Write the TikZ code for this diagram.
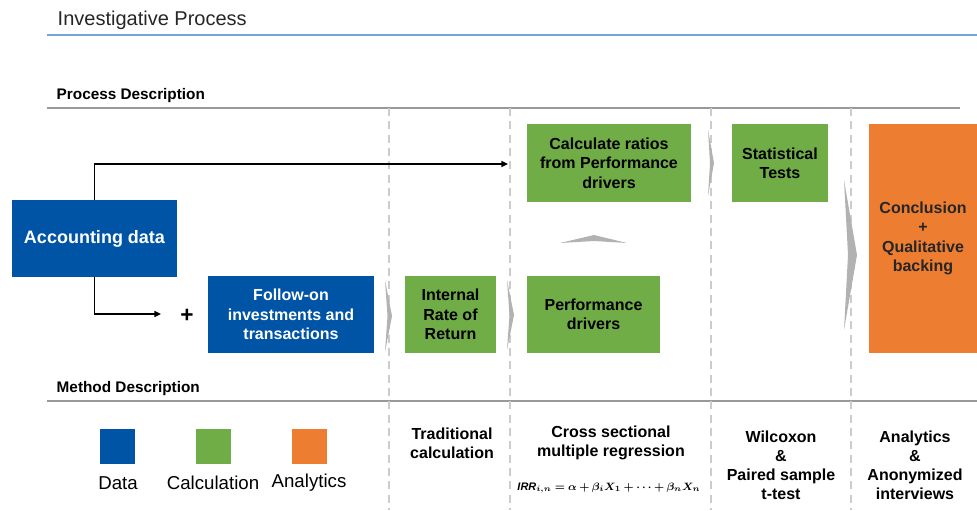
\documentclass[tikz,border=0pt]{standalone}
\usepackage{fontspec}
\setmainfont{Liberation Sans}
\usepackage{amsmath,bm}
\usetikzlibrary{arrows.meta}

\definecolor{dataBlue}{RGB}{0,84,166}
\definecolor{calcGreen}{RGB}{112,173,71}
\definecolor{anaOrange}{RGB}{237,125,49}
\definecolor{titleLine}{RGB}{120,165,215}

\begin{document}
\begin{tikzpicture}[x=0.75pt, y=-0.75pt,
	box/.style={rectangle, inner sep=2pt, align=center, font=\bfseries\fontsize{12}{14.5}\selectfont, minimum height=57.75pt},
	dataBox/.style={box, fill=dataBlue, text=white},
	calcBox/.style={box, fill=calcGreen, text=black},
	anaBox/.style={box, fill=anaOrange, text=black!85},
	legendBox/.style={rectangle, minimum size=26.25pt, inner sep=0pt},
	legendText/.style={font=\fontsize{14}{16}\selectfont},
	headText/.style={anchor=west, font=\bfseries\fontsize{11.5}{13}\selectfont},
	methodText/.style={align=center, font=\bfseries\fontsize{12}{14.3}\selectfont},
	colDivider/.style={gray!40, dash pattern=on 6pt off 4pt, line width=0.8pt},
	chevron/.style={fill=gray!60, draw=none},
	flow/.style={-{Triangle[length=5pt,width=4.5pt]}, line width=1.1pt}
]
	\useasboundingbox (0,0) rectangle (977,510);

	% headings and rules
	\node[anchor=west, font=\fontsize{15}{17}\selectfont, text=black!85](titleText) at (53,20.5){Investigative Process};
	\draw[titleLine, line width=1.5pt] (47,35) -- (977,35);
	\node[headText](processHead) at (52,95.5){Process Description};
	\draw[gray!80, line width=0.9pt] (47,108) -- (960,108);
	\node[headText](methodHead) at (52,388.5){Method Description};
	\draw[gray!80, line width=0.9pt] (47,401) -- (977,401);

	% column dividers
	\draw[colDivider] (389,108) -- (389,510);
	\draw[colDivider] (510,108) -- (510,510);
	\draw[colDivider] (711,108) -- (711,510);
	\draw[colDivider] (851,108) -- (851,510);

	% process boxes
	\node[dataBox, minimum width=123.75pt, font=\bfseries\fontsize{13.5}{16}\selectfont](accountingBox) at (94.5,238.5){Accounting data};
	\node[dataBox, minimum width=124.5pt](followOnBox) at (291,314.5){Follow-on\\investments and\\transactions};
	\node[calcBox, minimum width=68.25pt](irrBox) at (450.5,314.5){Internal\\Rate of\\Return};
	\node[calcBox, minimum width=99.75pt](perfBox) at (593.5,314.5){Performance\\drivers};
	\node[calcBox, minimum width=123pt, minimum height=58.5pt](ratioBox) at (609,163){Calculate ratios\\from Performance\\drivers};
	\node[calcBox, minimum width=72pt, minimum height=58.5pt](statBox) at (780,163){Statistical\\Tests};
	\node[anaBox, minimum width=81pt, minimum height=171.75pt](conclusionBox) at (923,238.5){Conclusion\\+\\Qualitative\\backing};

	% arrows out of the accounting data
	\coordinate (ratioIn) at (508,164);
	\coordinate (followIn) at (161,314);
	\draw[flow] (accountingBox.north) |- (ratioIn);
	\draw[flow] (accountingBox.south) |- (followIn);
	\node[font=\bfseries\fontsize{17}{17}\selectfont](plusSign) at (187,316){+};

	% chevrons between the steps
	\fill[chevron] (385,280) -- (392,316) -- (385,352) -- (387.5,316) -- cycle;
	\fill[chevron] (507,280) -- (514,315) -- (507,350) -- (509.5,315) -- cycle;
	\fill[chevron] (708,130) -- (714,163) -- (708,196) -- (710,163) -- cycle;
	\fill[chevron] (844,180) -- (857,255) -- (844,330) -- (848,255) -- cycle;
	\fill[chevron] (560,243) -- (594,235) -- (627,243) -- (594,241) -- cycle;

	% legend
	\node[legendBox, fill=dataBlue](legendDataBox) at (117.5,446){};
	\node[legendBox, fill=calcGreen](legendCalcBox) at (213.5,446){};
	\node[legendBox, fill=anaOrange](legendAnaBox) at (309.5,446){};
	\node[legendText](legendDataText) at (118,483){Data};
	\node[legendText](legendCalcText) at (213,483){Calculation};
	\node[legendText](legendAnaText) at (309,483){Analytics};

	% methods per column
	\node[methodText](traditionalText) at (452,443){Traditional\\calculation};
	\node[methodText](regressionText) at (611,443){Cross sectional\\multiple regression};
	\node[font=\fontsize{8.2}{10}\selectfont](formulaText) at (609,488){$\bm{\mathit{IRR}_{i,n} = \alpha + \beta_i X_1 + \cdots + \beta_n X_n}$};
	\node[methodText](testText) at (781,465){Wilcoxon\\\&\\Paired sample\\t-test};
	\node[methodText](analyticsText) at (915,465){Analytics\\\&\\Anonymized\\interviews};
\end{tikzpicture}
\end{document}
